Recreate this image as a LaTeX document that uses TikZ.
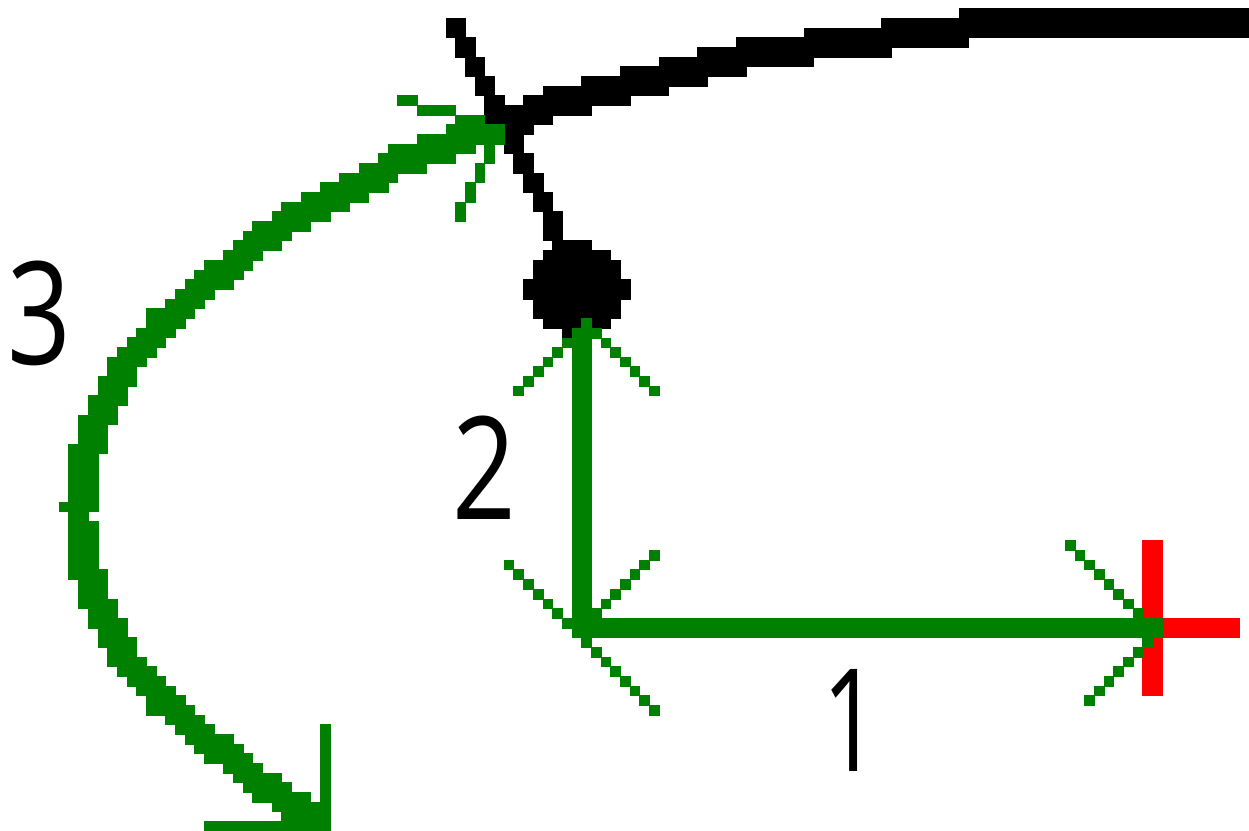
\documentclass[tikz,border=0pt]{standalone}
\usepackage{fontspec}
\newfontfamily\digitfont{Open Sans}
\definecolor{pathgreen}{RGB}{0,128,0}
\definecolor{pointred}{RGB}{255,0,0}
\tikzset{
  digit/.style={inner sep=0pt,outer sep=0pt,text=black,xscale=0.78,font=\digitfont\fontsize{143}{143}\selectfont},
}
% rows given as top/bottom/left/right, in pixels of the reference
\newcommand{\pixelrows}[2]{\foreach \ya/\yb/\xa/\xb in {#2} {\fill[#1,draw=#1,line width=0.15pt] (\xa,\ya) rectangle (\xb,\yb);}}
\begin{document}
\begin{tikzpicture}[x=1pt,y=-1pt]
\useasboundingbox (0,0) rectangle (1249,830);
% black road line and spike
\pixelrows{black}{
18/37/446/465,37/57/455/475,57/76/465/484,76/95/475/494,95/105/484/504,
8/18/959/1249,18/28/881/1249,28/37/804/1249,37/47/736/968,47/57/697/891,57/66/659/813,
66/76/620/746,76/86/581/707,86/95/543/668,95/105/523/630,105/115/484/591,115/124/484/552,
124/134/504/533,134/153/504/523,153/173/513/533,173/192/523/543,192/211/533/552,211/240/543/562,
240/250/552/591,250/260/543/610,260/279/533/620,279/299/523/630,299/318/533/620,318/328/543/610,328/338/562/572}
% red cross
\pixelrows{pointred}{540/695/1142/1162,618/637/1162/1239}
% green curved arrow
\pixelrows{pathgreen}{
95/105/397/417,105/115/417/455,115/124/455/484,124/134/446/504,134/144/417/504,144/153/388/475,
153/163/378/455,163/173/359/426,173/182/339/397,182/192/320/388,192/202/301/368,202/211/281/349,
211/221/272/330,221/231/252/310,231/240/243/291,240/250/233/281,250/260/223/262,260/270/204/252,
270/279/194/243,279/289/185/233,289/299/175/214,299/308/165/204,308/318/146/194,318/328/146/185,328/337/136/175,
337/347/127/165,347/357/117/156,357/366/107/146,366/376/107/136,376/386/98/136,386/395/98/127,
395/405/88/127,405/415/88/117,415/424/78/117,424/444/78/107,444/453/68/107,453/502/68/98,
502/511/59/98,511/521/68/88,521/569/68/98,569/579/68/107,579/599/78/107,599/608/78/117,608/618/88/117,
618/628/88/127,628/637/98/127,637/647/98/136,647/657/107/136,657/666/107/146,666/676/117/156,
676/686/127/165,686/695/136/175,695/705/146/185,705/715/146/194,715/724/165/204,724/734/175/214,734/744/185/233,
744/753/194/243,753/763/204/252,763/773/223/262,773/782/233/281,782/792/243/291,792/802/252/310,
802/811/272/330,811/821/281/330,821/830/204/330,724/802/320/330}
% whiskers at the start of the curved arrow
\pixelrows{pathgreen}{144/163/484/494,163/182/475/484,182/202/465/475,202/221/455/465}
% vertical leg with its arrow head
\pixelrows{pathgreen}{
318/328/581/591,328/338/572/601,338/347/562/591,338/347/601/610,347/357/552/562,357/366/543/552,366/376/533/543,
376/386/523/533,386/395/513/523,347/357/610/620,357/366/620/630,366/376/630/639,376/386/639/649,
386/395/649/659,338/637/572/591}
% horizontal leg and its arrow head
\pixelrows{pathgreen}{
618/637/572/1162,608/618/572/601,618/628/562/572,
560/569/504/513,569/579/513/523,579/589/523/533,589/599/533/543,599/608/543/552,608/618/552/562,
550/560/649/659,560/569/639/649,569/579/630/639,579/589/620/630,589/599/610/620,599/608/601/610,
637/647/581/591,647/657/591/601,657/666/601/610,666/676/610/620,676/686/620/630,686/695/630/639,695/705/639/649,705/715/649/659,
540/550/1065/1075,550/560/1075/1084,560/569/1084/1094,569/579/1094/1104,579/589/1104/1113,589/599/1113/1123,599/608/1123/1133,608/618/1133/1142,
637/647/1142/1152,647/657/1133/1142,657/666/1123/1133,666/676/1113/1123,676/686/1104/1113,686/695/1094/1104,695/705/1084/1094}
% labels
\node[digit] (three) at (39,313) {3};
\node[digit] (two) at (484,468) {2};
\node[digit,xscale=0.9] (one) at (851,720) {1};
\end{tikzpicture}
\end{document}
